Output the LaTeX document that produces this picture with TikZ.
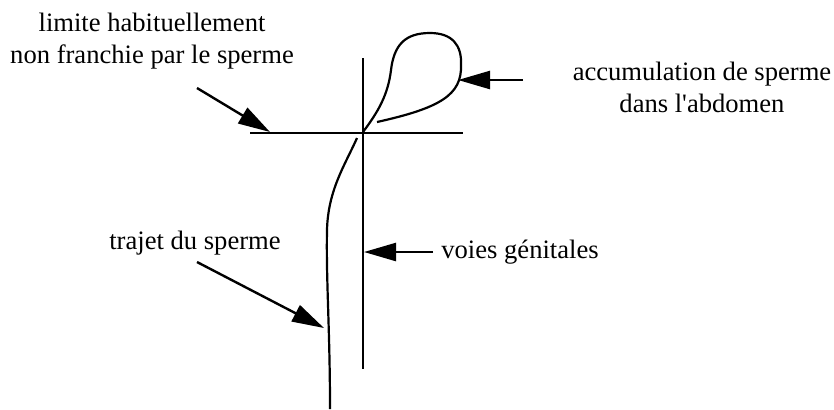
\documentclass[tikz,border=0pt]{standalone}
\usepackage{fontspec}
\setmainfont{Liberation Serif}[Ligatures=TeXOff]
\usetikzlibrary{arrows.meta}

\begin{document}
\begin{tikzpicture}[
    x=0.5pt, y=-0.5pt,
    line width=1pt,
    lbl/.style={align=center, inner sep=0pt,
        font=\fontsize{13.3}{16}\selectfont},
    pointer/.style={-{Triangle[length=16pt, width=9pt]}, line width=1.2pt},
    trace/.style={line width=1.1pt}
]
    \useasboundingbox (0,0) rectangle (834,409);

    % --- AXES ---
    \coordinate (vTop) at (363,58);
    \coordinate (vBot) at (363,369);
    \coordinate (hLeft) at (250,133);
    \coordinate (hRight) at (463,133);
    \draw (vTop) -- (vBot);
    \draw (hLeft) -- (hRight);

    % --- SPERM PATH ---
    \coordinate (loopStart) at (363,132);
    \coordinate (loopEnd) at (377,122);
    \draw[trace] (loopStart) .. controls (378,112) and (388,95) .. (391,70)
        .. controls (394,45) and (405,33) .. (430,33)
        .. controls (452,33) and (462,45) .. (461,65)
        .. controls (462,95) and (440,108) .. (loopEnd);
    \coordinate (pathStart) at (357,138);
    \coordinate (pathEnd) at (330,409);
    \draw[trace] (pathStart) .. controls (345,165) and (328,190) .. (327,230)
        .. controls (326,280) and (330,330) .. (pathEnd);

    % --- LABELS ---
    \node[lbl] (limite) at (152,41) {limite habituellement\\non franchie par le sperme};
    \node[lbl] (accum) at (702,87) {accumulation de sperme\\dans l'abdomen};
    \node[lbl] (voies) at (520,252) {voies génitales};
    \node[lbl] (trajet) at (195,243) {trajet du sperme};

    % --- ARROWS ---
    \coordinate (limiteTail) at (197,88);
    \coordinate (limiteTip) at (270,132);
    \draw[pointer] (limiteTail) -- (limiteTip);
    \coordinate (accumTail) at (523,80);
    \coordinate (accumTip) at (458,80);
    \draw[pointer] (accumTail) -- (accumTip);
    \coordinate (voiesTail) at (433,252);
    \coordinate (voiesTip) at (364,252);
    \draw[pointer] (voiesTail) -- (voiesTip);
    \coordinate (trajetTail) at (197,262);
    \coordinate (trajetTip) at (324,328);
    \draw[pointer] (trajetTail) -- (trajetTip);

\end{tikzpicture}
\end{document}
